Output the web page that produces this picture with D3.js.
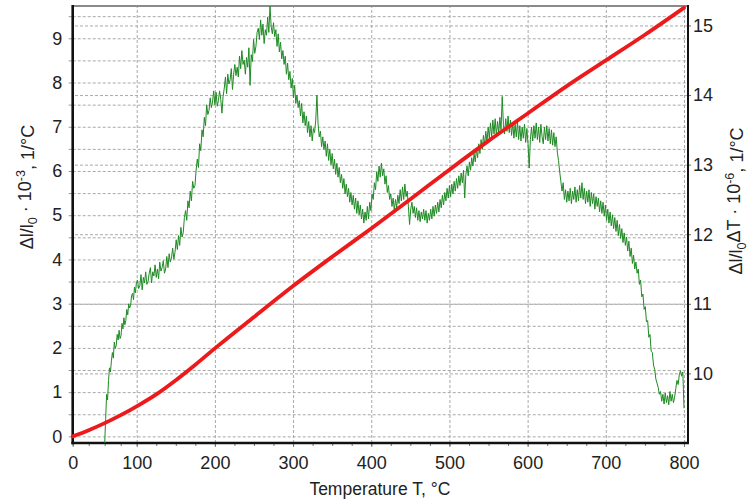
<!DOCTYPE html>
<html>
<head>
<meta charset="utf-8">
<script src="https://cdn.jsdelivr.net/npm/d3@7"></script>
<style>
  body { margin: 0; background: #fff; }
  text { font-family: "Liberation Sans", Arial, sans-serif; fill: #222; }
</style>
</head>
<body>
<svg id="chart" width="748" height="504"></svg>
<script>
// Temperature axis ticks (°C)
const temperatureTicks = [0, 100, 200, 300, 400, 500, 600, 700, 800];
// Left axis: relative elongation Δl/l0 · 10^-3
const elongationTicks = [0, 1, 2, 3, 4, 5, 6, 7, 8, 9];
// Right axis: expansion coefficient · 10^-6, 1/°C
const cteTicks = [10, 11, 12, 13, 14, 15];

// Relative elongation curve (red)
const elongationT = [0, 25, 50, 75, 100, 125, 150, 175, 200, 250, 300, 350, 400, 450, 500, 550, 600, 650, 700, 750, 800];
const elongation  = [0, 0.14, 0.30, 0.48, 0.68, 0.95, 1.27, 1.62, 1.99, 2.70, 3.40, 4.06, 4.70, 5.36, 6.03, 6.68, 7.30, 7.92, 8.50, 9.08, 9.69];

// Thermal expansion coefficient (green), sampled every 1.5 °C from 50 °C
const cteStartT = 50;
const cteStepT = 1.5;
const cte = [
  9.00, 9.35, 9.70, 9.62, 9.90, 10.08, 10.02, 10.18, 10.30, 10.22,
  10.45, 10.36, 10.40, 10.56, 10.48, 10.62, 10.50, 10.54, 10.72, 10.64,
  10.80, 10.70, 10.76, 10.92, 10.84, 11.00, 10.94, 10.98, 11.12, 11.15,
  11.06, 11.24, 11.16, 11.30, 11.34, 11.22, 11.26, 11.42, 11.20, 11.38,
  11.30, 11.46, 11.28, 11.32, 11.44, 11.52, 11.30, 11.46, 11.40, 11.56,
  11.38, 11.50, 11.36, 11.60, 11.47, 11.52, 11.62, 11.44, 11.50, 11.68,
  11.52, 11.72, 11.60, 11.66, 11.80, 11.64, 11.74, 11.92, 11.78, 11.98,
  11.84, 12.10, 11.96, 12.02, 12.24, 12.34, 12.20, 12.48, 12.38, 12.62,
  12.48, 12.76, 12.66, 12.70, 12.92, 13.08, 12.96, 13.30, 13.20, 13.50,
  13.40, 13.68, 13.56, 13.86, 13.72, 13.78, 13.96, 13.82, 13.90, 14.06,
  13.86, 14.04, 13.84, 13.92, 14.06, 13.94, 13.74, 13.98, 14.10, 14.26,
  14.02, 14.30, 14.16, 14.22, 14.38, 14.08, 14.30, 14.44, 14.28, 14.40,
  14.26, 14.56, 14.38, 14.64, 14.44, 14.50, 14.30, 14.54, 14.40, 14.68,
  14.14, 14.58, 14.48, 14.80, 14.60, 14.70, 14.90, 14.96, 14.80, 15.08,
  14.86, 15.02, 14.74, 14.94, 14.86, 15.12, 14.90, 15.28, 14.98, 14.88,
  15.04, 14.84, 14.94, 14.70, 14.88, 14.62, 14.76, 14.52, 14.64, 14.44,
  14.56, 14.30, 14.46, 14.22, 14.34, 14.10, 14.24, 13.96, 14.14, 13.88,
  14.00, 13.82, 13.92, 13.70, 13.88, 13.60, 13.76, 13.56, 13.70, 13.46,
  13.62, 13.40, 13.56, 13.34, 13.52, 13.46, 13.64, 14.00, 13.58, 13.40,
  13.48, 13.26, 13.40, 13.22, 13.34, 13.12, 13.30, 13.06, 13.22, 13.00,
  13.16, 12.94, 13.08, 12.86, 13.02, 12.82, 12.96, 12.74, 12.86, 12.66,
  12.80, 12.58, 12.72, 12.54, 12.66, 12.46, 12.60, 12.42, 12.56, 12.36,
  12.52, 12.30, 12.48, 12.28, 12.42, 12.22, 12.36, 12.16, 12.32, 12.20,
  12.40, 12.22, 12.46, 12.34, 12.58, 12.50, 12.74, 12.64, 12.90, 12.76,
  12.98, 12.82, 13.02, 12.84, 12.94, 12.72, 12.84, 12.60, 12.70, 12.50,
  12.58, 12.40, 12.52, 12.34, 12.50, 12.38, 12.56, 12.44, 12.64, 12.48,
  12.68, 12.50, 12.72, 12.54, 12.62, 12.40, 12.14, 12.36, 12.46, 12.30,
  12.40, 12.24, 12.38, 12.20, 12.34, 12.18, 12.32, 12.22, 12.36, 12.20,
  12.34, 12.16, 12.30, 12.20, 12.36, 12.22, 12.40, 12.26, 12.42, 12.30,
  12.46, 12.32, 12.50, 12.38, 12.56, 12.42, 12.60, 12.48, 12.66, 12.52,
  12.70, 12.54, 12.72, 12.58, 12.76, 12.62, 12.80, 12.66, 12.84, 12.70,
  12.88, 12.74, 12.92, 12.52, 12.86, 12.98, 12.84, 13.04, 12.92, 13.10,
  12.98, 13.16, 13.04, 13.22, 13.10, 13.30, 13.16, 13.36, 13.22, 13.42,
  13.28, 13.48, 13.32, 13.54, 13.38, 13.60, 13.40, 13.64, 13.44, 13.66,
  13.42, 13.62, 13.46, 13.68, 13.50, 13.98, 13.58, 13.44, 13.66, 13.48,
  13.70, 13.46, 13.64, 13.42, 13.60, 13.38, 13.58, 13.40, 13.62, 13.36,
  13.56, 13.34, 13.54, 13.38, 13.58, 13.32, 13.52, 13.30, 12.95, 13.36,
  13.54, 13.34, 13.56, 13.38, 13.60, 13.36, 13.54, 13.32, 13.58, 13.40,
  13.30, 13.54, 13.36, 13.56, 13.34, 13.52, 13.30, 13.50, 13.28, 13.46,
  13.26, 13.40, 13.18, 13.06, 12.90, 12.76, 12.62, 12.74, 12.50, 12.64,
  12.46, 12.62, 12.48, 12.66, 12.44, 12.62, 12.50, 12.68, 12.46, 12.64,
  12.48, 12.70, 12.52, 12.74, 12.50, 12.66, 12.44, 12.62, 12.46, 12.64,
  12.40, 12.60, 12.44, 12.58, 12.36, 12.54, 12.40, 12.52, 12.32, 12.48,
  12.30, 12.46, 12.26, 12.42, 12.20, 12.36, 12.16, 12.32, 12.12, 12.28,
  12.08, 12.24, 12.04, 12.20, 11.98, 12.14, 11.94, 12.08, 11.88, 12.02,
  11.84, 11.96, 11.76, 11.90, 11.68, 11.80, 11.58, 11.70, 11.50, 11.60,
  11.44, 11.50, 11.28, 11.34, 11.10, 11.14, 10.92, 10.96, 10.74, 10.76,
  10.52, 10.56, 10.32, 10.30, 10.12, 10.06, 9.92, 9.86, 9.80, 9.70,
  9.74, 9.60, 9.70, 9.56, 9.72, 9.58, 9.68, 9.55, 9.74, 9.60,
  9.70, 9.58, 9.66, 9.78, 9.90, 9.84, 9.98, 10.04, 9.96, 10.02,
  9.50
];

const svg = d3.select("#chart");
const plotLeft = 72.7, plotRight = 688, plotTop = 6, plotBottom = 443;
const plotW = plotRight - plotLeft, plotH = plotBottom - plotTop;

// The temperature axis is compressed in its first hundred degrees
const x = d3.scaleLinear().domain([0, 100, 800]).range([plotLeft, 136.7, 684]);
const yL = d3.scaleLinear().domain([-0.15, 9.73]).range([plotBottom, plotTop]);
const yR = d3.scaleLinear().domain([9.0, 15.28]).range([plotBottom, plotTop]);

const gridColor = "#a8a8a8";

// Horizontal grid at every half unit of the left axis
const halfSteps = d3.range(0, 9.51, 0.5);
svg.append("g")
  .attr("transform", `translate(${plotLeft},0)`)
  .call(d3.axisLeft(yL).tickValues(halfSteps).tickSizeInner(-plotW).tickSizeOuter(0).tickFormat(""))
  .call(g => g.select(".domain").remove())
  .call(g => g.selectAll("line").attr("stroke", gridColor).attr("stroke-dasharray", "3,2"));

// Horizontal grid at the right axis integers
svg.append("g")
  .attr("transform", `translate(${plotRight},0)`)
  .call(d3.axisRight(yR).tickValues(cteTicks).tickSizeInner(-plotW).tickSizeOuter(0).tickFormat(""))
  .call(g => g.select(".domain").remove())
  .call(g => g.selectAll("line").attr("stroke", gridColor).attr("stroke-dasharray", "3,2"));

// Vertical grid every 100 °C
svg.append("g")
  .attr("transform", `translate(0,${plotBottom})`)
  .call(d3.axisBottom(x).tickValues(temperatureTicks.slice(1)).tickSizeInner(-plotH).tickSizeOuter(0).tickFormat(""))
  .call(g => g.select(".domain").remove())
  .call(g => g.selectAll("line").attr("stroke", gridColor).attr("stroke-dasharray", "3,2"));

// Left axis ticks and labels
svg.append("g")
  .attr("transform", `translate(${plotLeft},0)`)
  .call(d3.axisLeft(yL).tickValues(halfSteps).tickSizeInner(4).tickSizeOuter(0).tickPadding(6.5)
    .tickFormat(d => elongationTicks.includes(d) ? d : ""))
  .call(g => g.select(".domain").remove())
  .call(g => g.selectAll("line").attr("stroke", "#999"))
  .call(g => g.selectAll("text").attr("font-size", 18).attr("font-family", null).attr("fill", "#222"));

// Right axis ticks and labels
svg.append("g")
  .attr("transform", `translate(${plotRight},0)`)
  .call(d3.axisRight(yR).tickValues(cteTicks).tickSizeInner(3).tickSizeOuter(0).tickPadding(2)
    .tickFormat(d3.format("d")))
  .call(g => g.select(".domain").remove())
  .call(g => g.selectAll("line").attr("stroke", "#666"))
  .call(g => g.selectAll("text").attr("font-size", 18).attr("font-family", null).attr("fill", "#222"));

// Bottom minor ticks every 25 °C
svg.append("g")
  .attr("transform", `translate(0,${plotBottom})`)
  .call(d3.axisBottom(x).tickValues(d3.range(0, 801, 25)).tickSizeInner(3).tickSizeOuter(0).tickFormat(""))
  .call(g => g.select(".domain").remove())
  .call(g => g.selectAll("line").attr("stroke", "#777"));

// Bottom axis labels
svg.append("g")
  .attr("transform", `translate(0,${plotBottom})`)
  .call(d3.axisBottom(x).tickValues(temperatureTicks).tickSizeInner(4).tickSizeOuter(0).tickPadding(9.5))
  .call(g => g.select(".domain").remove())
  .call(g => g.selectAll("line").attr("stroke", "#777"))
  .call(g => g.selectAll("text").attr("font-size", 18).attr("font-family", null).attr("fill", "#222"));

// Frame
svg.append("line").attr("x1", plotLeft).attr("x2", plotRight).attr("y1", plotTop).attr("y2", plotTop)
  .attr("stroke", "#8a8a8a").attr("stroke-width", 2);
svg.append("line").attr("x1", plotRight).attr("x2", plotRight).attr("y1", plotTop - 1).attr("y2", plotBottom)
  .attr("stroke", "#111").attr("stroke-width", 2);
svg.append("line").attr("x1", plotLeft).attr("x2", plotLeft).attr("y1", plotTop - 1).attr("y2", plotBottom + 1.3)
  .attr("stroke", "#111").attr("stroke-width", 2.6);
svg.append("line").attr("x1", plotLeft - 1.3).attr("x2", plotRight + 1).attr("y1", plotBottom).attr("y2", plotBottom)
  .attr("stroke", "#111").attr("stroke-width", 2.6);

// Expansion coefficient curve
const ctePoints = cte.map((v, i) => [cteStartT + cteStepT * i, v]);
svg.append("path")
  .datum(ctePoints)
  .attr("fill", "none")
  .attr("stroke", "#1f8a24")
  .attr("stroke-width", 1)
  .attr("stroke-linejoin", "round")
  .attr("d", d3.line().x(d => x(d[0])).y(d => yR(d[1])));

// Relative elongation curve
const elongationPoints = elongationT.map((t, i) => [t, elongation[i]]);
svg.append("path")
  .datum(elongationPoints)
  .attr("fill", "none")
  .attr("stroke", "#ec1a1a")
  .attr("stroke-width", 3.8)
  .attr("stroke-linecap", "round")
  .attr("d", d3.line().curve(d3.curveMonotoneX).x(d => x(d[0])).y(d => yL(d[1])));

// Axis titles
svg.append("text")
  .attr("x", (plotLeft + plotRight) / 2 - 0.5).attr("y", 495)
  .attr("text-anchor", "middle").attr("font-size", 17.5)
  .text("Temperature T, °C");

function addTitle(tx, ty, parts) {
  const t = svg.append("text")
    .attr("transform", `translate(${tx},${ty}) rotate(-90)`)
    .attr("text-anchor", "middle").attr("font-size", 18);
  let shift = 0;
  parts.forEach(p => {
    const target = p.shift || 0;
    const span = t.append("tspan").text(p.text).attr("dy", `${target - shift}em`);
    if (p.small) span.attr("font-size", "70%");
    shift = target;
  });
}

addTitle(33, 187, [
  { text: "Δl/l" },
  { text: "0", small: true, shift: 0.3 },
  { text: " · 10", shift: 0 },
  { text: "-3", small: true, shift: -0.5 },
  { text: ", 1/°C", shift: 0 }
]);

addTitle(742, 201, [
  { text: "Δl/l" },
  { text: "0", small: true, shift: 0.3 },
  { text: "ΔT · 10", shift: 0 },
  { text: "-6", small: true, shift: -0.5 },
  { text: ", 1/°C", shift: 0 }
]);
</script>
</body>
</html>
